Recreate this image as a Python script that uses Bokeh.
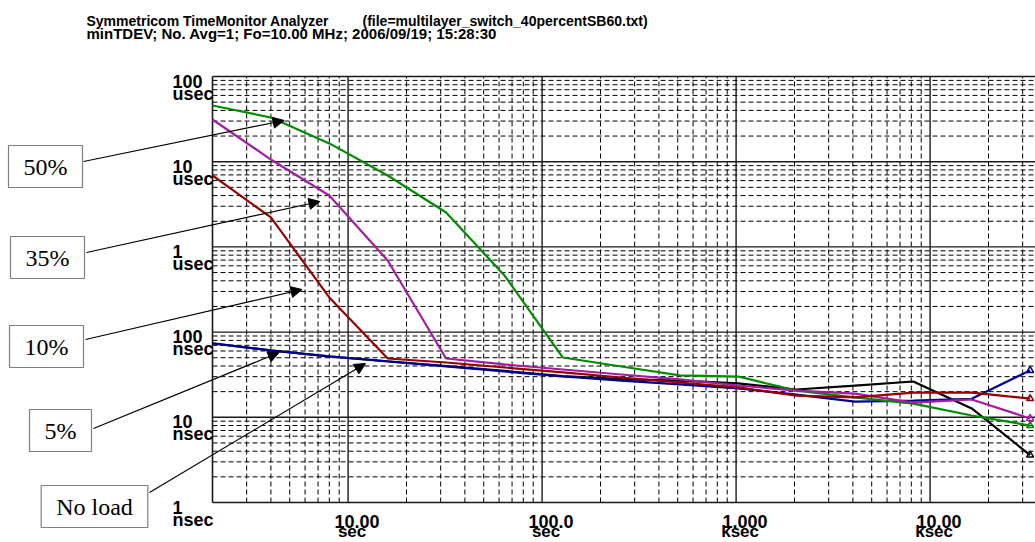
import math
from bokeh.plotting import figure
from bokeh.models import Label, Arrow, NormalHead, Range1d
from bokeh.core.properties import value
from bokeh.embed import file_html
from bokeh.resources import INLINE

# ---------------- data (tau in seconds, minTDEV in ns) ----------------
tau_s = [2, 4, 8, 16, 32, 64, 128, 256, 512, 1024, 2048, 4096, 8192, 16384, 32768]
tdev_50 = [45700, 33000, 16400, 6890, 2535, 462, 50.3, 39.5, 31.0, 30.1, 20.6, 17.1, 14.5, 10.5, 8.0]
tdev_35 = [31300, 10600, 4010, 692, 49.0, 41.7, 36.4, 31.8, 27.8, 23.6, 20.6, 19.0, 14.9, 16.2, 9.7]
tdev_10 = [6890, 2215, 255, 49.0, 44.0, 38.4, 33.6, 29.3, 25.6, 22.4, 18.0, 17.1, 19.5, 19.5, 16.6]
tdev_5 = [73.5, 60.8, 51.7, 45.2, 39.5, 34.5, 30.1, 27.0, 24.3, 21.8, 18.5, 15.3, 15.7, 16.5, 35.5]
tdev_noload = [74.0, 61.0, 52.0, 45.5, 40.0, 35.0, 30.5, 28.0, 27.0, 25.0, 21.2, 23.6, 26.3, 12.7, 3.6]

series_names = ["No load", "5%", "50%", "35%", "10%"]
series_colors = ["#000000", "#000096", "#008c00", "#a41ca4", "#960000"]

# axis ticks and labels
x_lo, x_hi = 2, 40000          # extent of the plotting area (seconds)
y_lo, y_hi = 1, 100000         # extent of the plotting area (ns)
x_ticks = [10, 100, 1000, 10000]
x_num = ["10.00", "100.0", "1.000", "10.00"]
x_unit = ["sec", "sec", "ksec", "ksec"]
y_ticks = [1, 10, 100, 1000, 10000, 100000]
y_num = ["1", "10", "100", "1", "10", "100"]
y_unit = ["nsec", "nsec", "nsec", "usec", "usec", "usec"]

title_1 = "Symmetricom TimeMonitor Analyzer"
title_file = "(file=multilayer_switch_40percentSB60.txt)"
title_2 = "minTDEV; No. Avg=1; Fo=10.00 MHz; 2006/09/19; 15:28:30"

# callout boxes: text, box centre (screen px), arrow start (screen px), arrow tip (data)
callout_text = ["50%", "35%", "10%", "5%", "No load"]
callout_box = [(45, 376), (47, 285), (46, 196), (60, 112), (94, 36)]
callout_start = [(83, 381), (86, 290), (85, 203), (93, 114), (149, 50)]
callout_tip = [(4.68, 30470), (7.16, 3410), (5.79, 316), (4.41, 57.6), (12.3, 42.8)]

# ---------------- layout geometry ----------------
W, H = 1035, 542
FL, FT, FB = 212, 76, 502          # plotting area left / top / bottom on the canvas
DX = 194.0                          # px per decade on x
DY = (FB - FT) / 5.0                # px per decade on y
lx0 = math.log10(x_lo) - FL / DX
lx1 = math.log10(x_lo) + (W - FL) / DX
ly0 = math.log10(y_lo) - (H - FB) / DY
ly1 = math.log10(y_hi) + FT / DY

p = figure(width=W, height=H, x_axis_type="log", y_axis_type="log",
           x_range=Range1d(10 ** lx0, 10 ** lx1), y_range=Range1d(10 ** ly0, 10 ** ly1),
           output_backend="svg", toolbar_location=None, title=None,
           min_border=0)
p.xaxis.visible = False
p.yaxis.visible = False
p.xgrid.visible = False
p.ygrid.visible = False
p.outline_line_color = None
p.background_fill_color = "white"
p.border_fill_color = "white"

# ---------------- grid ----------------
x_minor = [m * 10 ** d for d in range(0, 5) for m in range(2, 10) if x_lo < m * 10 ** d < x_hi and m * 10 ** d not in x_ticks]
y_minor = [m * 10 ** d for d in range(0, 5) for m in range(2, 10)]

p.segment(x0=x_minor, y0=[y_lo] * len(x_minor), x1=x_minor, y1=[y_hi] * len(x_minor),
          line_color="black", line_width=1, line_dash="5 3")
p.segment(x0=[x_lo] * len(y_minor), y0=y_minor, x1=[x_hi] * len(y_minor), y1=y_minor,
          line_color="black", line_width=1, line_dash="5 3")
p.segment(x0=x_ticks, y0=[y_lo] * len(x_ticks), x1=x_ticks, y1=[y_hi] * len(x_ticks),
          line_color="#1a1a1a", line_width=1.4)
p.segment(x0=[x_lo] * len(y_ticks), y0=y_ticks, x1=[x_hi] * len(y_ticks), y1=y_ticks,
          line_color="#1a1a1a", line_width=1.4)
p.segment(x0=[x_lo], y0=[y_lo], x1=[x_lo], y1=[y_hi], line_color="#1a1a1a", line_width=1.6)

# ---------------- series ----------------
all_series = [tdev_noload, tdev_5, tdev_50, tdev_35, tdev_10]
for vals, col, name in zip(all_series, series_colors, series_names):
    p.line(tau_s, vals, line_color=col, line_width=2.2)
    p.scatter(tau_s[-1:], vals[-1:], marker="triangle", size=7,
              fill_color=None, line_color=col, line_width=1.5)

FONT = value("Liberation Sans")

# ---------------- tick labels ----------------
p.text(x=[x_lo] * len(y_ticks), y=y_ticks, text=y_num, x_offset=-40, y_offset=4.5,
       text_font=FONT, text_font_style="bold", text_font_size="18px",
       text_align="left", text_baseline="alphabetic", text_color="black")
p.text(x=[x_lo] * len(y_ticks), y=y_ticks, text=y_unit, x_offset=-40, y_offset=17,
       text_font=FONT, text_font_style="bold", text_font_size="18px",
       text_align="left", text_baseline="alphabetic", text_color="black")
p.text(x=x_ticks, y=[y_lo] * len(x_ticks), text=x_num, x_offset=9, y_offset=19,
       text_font=FONT, text_font_style="bold", text_font_size="18px",
       text_align="center", text_baseline="alphabetic", text_color="black")
p.text(x=x_ticks, y=[y_lo] * len(x_ticks), text=x_unit, x_offset=4, y_offset=29,
       text_font=FONT, text_font_style="bold", text_font_size="17px",
       text_align="center", text_baseline="alphabetic", text_color="black")

# ---------------- title ----------------
for txt, xx, yy, fs in [(title_1, 86, H - 20, "14px"), (title_file, 362, H - 20, "14px"),
                        (title_2, 86, H - 33, "15px")]:
    p.add_layout(Label(x=xx, y=yy, x_units="screen", y_units="screen", text=txt,
                       text_font="Liberation Sans", text_font_style="bold", text_font_size=fs,
                       text_align="left", text_baseline="alphabetic", text_color="black"))

# ---------------- callouts ----------------
for txt, (bx, by), (sx, sy), (tx, ty) in zip(callout_text, callout_box, callout_start, callout_tip):
    p.add_layout(Arrow(x_start=sx, y_start=sy, start_units="screen",
                       x_end=tx, y_end=ty, end_units="data",
                       line_color="black", line_width=1.2,
                       end=NormalHead(size=11, fill_color="black", line_color="black", line_width=1)))
    p.add_layout(Label(x=bx, y=by, x_units="screen", y_units="screen", text=txt,
                       text_font="Liberation Serif", text_font_size="24px",
                       text_align="center", text_baseline="middle", text_color="black",
                       background_fill_color="white", border_line_color="#7f7f7f",
                       border_line_width=1.2,
                       padding=dict(left=15, right=15, top=8, bottom=8)))

open("out.html", "w").write(file_html(p, INLINE))
